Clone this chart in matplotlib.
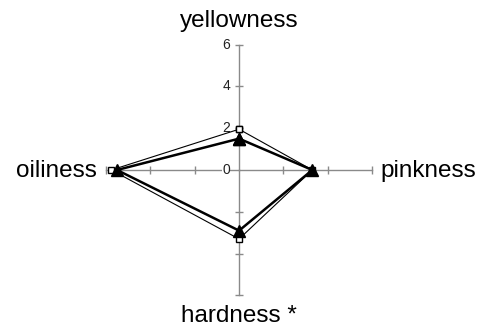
import numpy as np
import matplotlib
matplotlib.use("Agg")
import matplotlib.pyplot as plt

plt.rcParams['font.family'] = ['Liberation Sans', 'DejaVu Sans']

# attributes, clockwise from the top
attributes = ['yellowness', 'pinkness', 'hardness *', 'oiliness']
series_a = [1.95, 3.3, 3.3, 5.75]   # open squares, thin line
series_b = [1.5, 3.3, 2.9, 5.5]     # filled triangles, thick line
scale_ticks = [2, 4, 6]
r_max = 6

angles = np.pi / 2 - np.arange(len(attributes)) * np.pi / 2


def to_xy(values):
    v = np.asarray(values, dtype=float)
    x = v * np.cos(angles)
    y = v * np.sin(angles)
    # close the polygon
    return np.append(x, x[0]), np.append(y, y[0])


fig = plt.figure(figsize=(4.85, 3.31), dpi=100)
ax = fig.add_axes([0, 0, 1, 1])
ax.set_xlim(-10.77, 11.08)
ax.set_ylim(-7.70, 8.13)
ax.axis('off')

grey = '#8a8a8a'
for a in angles:
    ax.plot([0, r_max * np.cos(a)], [0, r_max * np.sin(a)], color=grey, lw=1, zorder=1)
    tx = np.array(scale_ticks) * np.cos(a)
    ty = np.array(scale_ticks) * np.sin(a)
    mk = '_' if abs(np.cos(a)) < 0.5 else '|'
    ax.plot(tx, ty, ls='none', marker=mk, ms=6, mew=1, color=grey, zorder=1)

# value labels on the top spoke
for t in [0] + scale_ticks:
    ax.text(-0.4, t, str(t), ha='right', va='center', fontsize=10, color='#222222',
            zorder=2, bbox=dict(facecolor='white', edgecolor='none', pad=0.2) if t == 0 else None)

xa, ya = to_xy(series_a)
ax.plot(xa, ya, color='black', lw=0.8, marker='s', ms=5, mfc='white', mec='black',
        mew=1, zorder=3)
xb, yb = to_xy(series_b)
ax.plot(xb, yb, color='black', lw=1.8, marker='^', ms=8.5, mfc='black', mec='black',
        zorder=4)

# attribute names around the chart
ax.text(0, 6.83, attributes[0], ha='center', va='baseline', fontsize=17.5)
ax.text(6.35, -0.32, attributes[1], ha='left', va='baseline', fontsize=17.5)
ax.text(0, -7.26, attributes[2], ha='center', va='baseline', fontsize=17.5)
ax.text(-6.4, -0.32, attributes[3], ha='right', va='baseline', fontsize=17.5)

fig.savefig('out.png', dpi=100)
